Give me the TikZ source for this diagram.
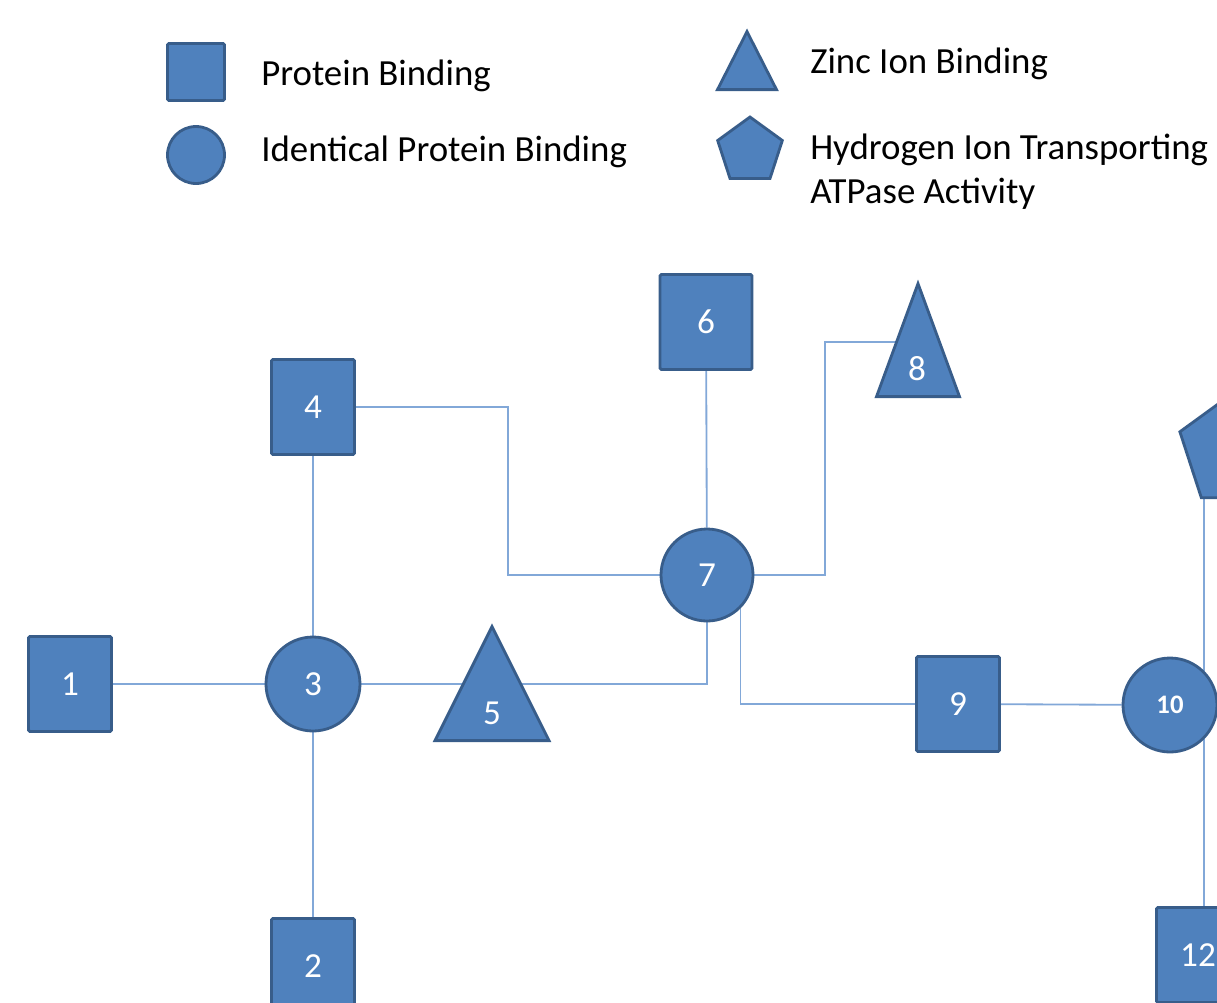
\documentclass[tikz,border=0pt]{standalone}
\usepackage{fontspec}
\setmainfont{Carlito}
\usetikzlibrary{shapes.geometric, calc, backgrounds}
\newcommand{\pxl}{0.025cm}
\definecolor{nodefill}{HTML}{4F81BD}
\definecolor{nodeline}{HTML}{385D8A}
\definecolor{edgeline}{HTML}{82A8D8}

\begin{document}
\begin{tikzpicture}[x=0.025cm,y=-0.025cm,
  shp/.style={draw=nodeline,fill=nodefill,line width=2pt,inner sep=0pt,text=white,font=\fontsize{25}{30}\selectfont},
  box/.style={shp,rounded corners=1pt,minimum width=83*\pxl,minimum height=95*\pxl},
  ball/.style={shp,circle,minimum size=94*\pxl},
  tri/.style={shp,isosceles triangle,shape border rotate=90,isosceles triangle stretches,anchor=lower side},
  penta/.style={shp,regular polygon,regular polygon sides=5},
  num/.style={inner sep=0pt,text=white,font=\fontsize{25}{30}\selectfont},
  legend/.style={anchor=base west,inner sep=0pt,font=\fontsize{26.2}{30}\selectfont},
  link/.style={draw=edgeline,line width=1.3pt}]
  \useasboundingbox (0,0) rectangle (1217,1002);
  \path (196,72) node[box,minimum width=57*\pxl,minimum height=57*\pxl] (legbox) {}
  (196,155) node[ball,minimum size=57*\pxl] (legball) {}
  (747,91) node[tri,minimum width=59*\pxl,minimum height=58*\pxl] (legtri) {}
  (750,151) node[penta,minimum size=68*\pxl] (legpenta) {};
  \path (261,85) node[legend] (txbox) {Protein Binding}
  (261,161) node[legend] (txball) {Identical Protein Binding}
  (810,73) node[legend] (txtri) {Zinc Ion Binding}
  (810,159) node[legend] (txpenta) {Hydrogen Ion Transporting}
  (810,203) node[legend] (txpentb) {ATPase Activity};
  \path (70,684) node[box] (n1) {1} (313,966) node[box] (n2) {2}
  (313,684) node[ball] (n3) {3} (313,407) node[box] (n4) {4}
  (492,742) node[tri,minimum width=114*\pxl,minimum height=114*\pxl] (n5) {}
  (706,322) node[box,minimum width=92*\pxl] (n6) {6} (707,575) node[ball,minimum size=92*\pxl] (n7) {7}
  (918,398) node[tri,minimum width=83*\pxl,minimum height=113*\pxl] (n8) {}
  (958,704) node[box] (n9) {9}
  (1170,705) node[ball,font=\bfseries\fontsize{19}{24}\selectfont] (n10) {10}
  (1236,450) node[penta,minimum size=118*\pxl] (n11) {}
  (1198,955) node[box] (n12) {12};
  \node[num] (t5) at (492,713) {5};
  \node[num] (t8) at (917,369) {8};
  \begin{scope}[on background layer]
    \coordinate (k47) at (508,575);
    \coordinate (k78) at (825,342);
    \draw[link] (n1) -- (n3);
    \draw[link] (n3) -- (n4);
    \draw[link] (n3) -- (n2);
    \draw[link] (n3.east) -- (n3.east -| n5.apex);
    \draw[link] (n5.apex |- n3.east) -| (n7.south);
    \draw[link] (n4.east) -| (k47) -- (n7.west);
    \draw[link] (n6) -- (n7);
    \draw[link] (n7.east) -| (k78) -- (n8.apex |- k78);
    \draw[link] (n7.-45) |- (n9.west);
    \draw[link] (n9) -- (n10);
    \draw[link] (n10.45) -- (n10.45 |- n11.center);
    \draw[link] (n10.-45) -- (n10.-45 |- n12.north);
  \end{scope}
\end{tikzpicture}
\end{document}
